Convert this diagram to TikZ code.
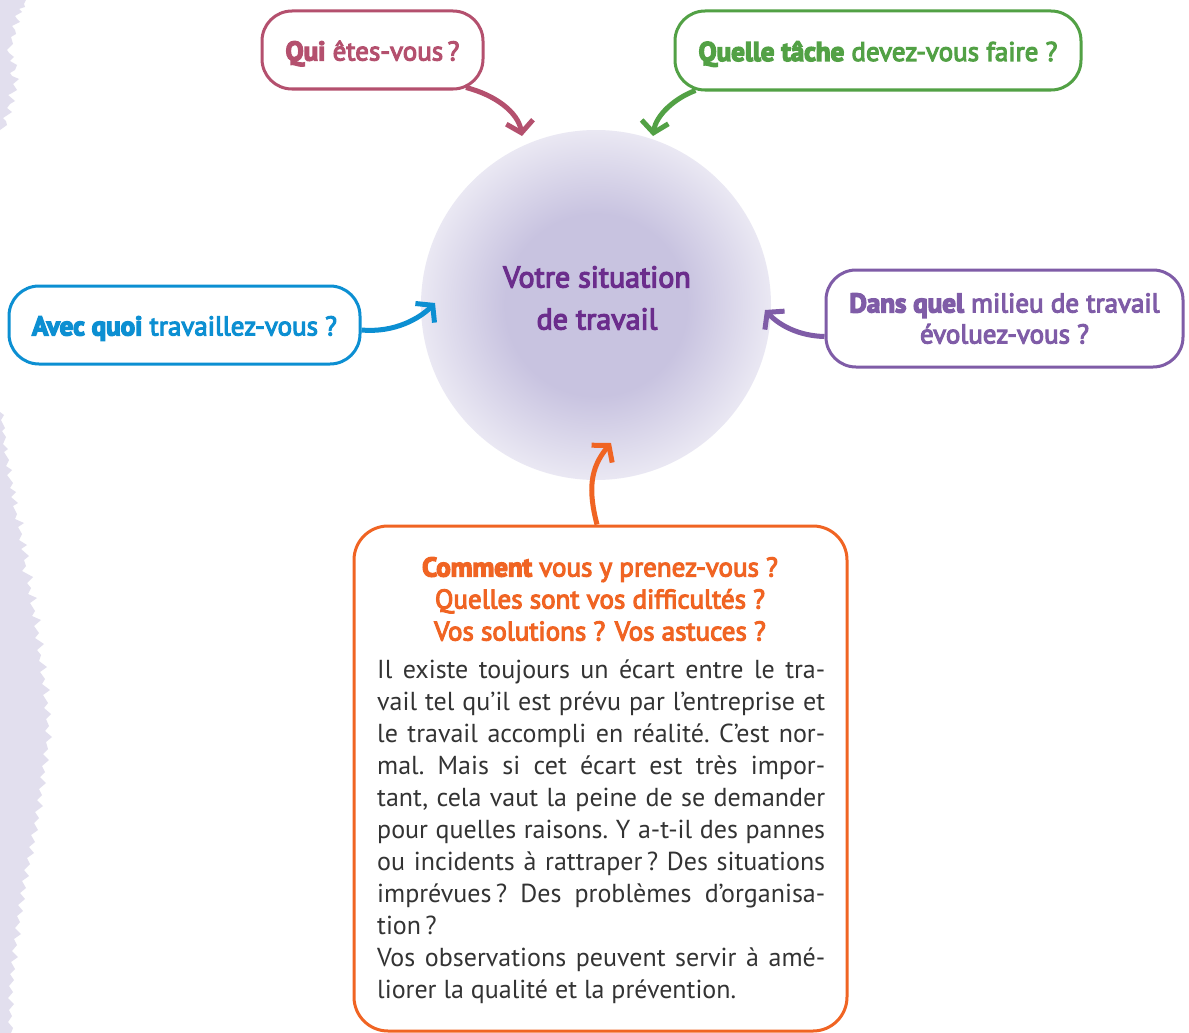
\documentclass[tikz,border=0pt]{standalone}
\usepackage{fontspec}
\setmainfont{PT Sans}
\newfontfamily\medfont{PT Sans}[FakeBold=4]
\newfontfamily\heavyfont{PT Sans}[FakeBold=5]
\usetikzlibrary{arrows.meta,calc}
\definecolor{cred}{HTML}{B4506E}
\definecolor{cgreen}{HTML}{52A145}
\definecolor{cblue}{HTML}{0C8FD2}
\definecolor{cpurple}{HTML}{7F5CA7}
\definecolor{cdeep}{HTML}{6B2D8C}
\definecolor{corange}{HTML}{F06423}
\definecolor{cin}{HTML}{C8C3E0}
\definecolor{cout}{HTML}{EAE8F3}
\definecolor{cedge}{HTML}{E2DFEE}
\definecolor{ctext}{HTML}{333333}
\pgfdeclareradialshading{sitshade}{\pgfpoint{0bp}{0bp}}{color(0bp)=(cin); color(13bp)=(cin); color(25bp)=(cout); color(50bp)=(cout)}
\newcommand\qfont{\medfont\fontsize{27}{31}\selectfont}
\newcommand\hv[1]{{\heavyfont\bfseries #1}}
\newcommand\lowr[1]{\raisebox{-3.5pt}[\height][\depth]{#1}}
\newcommand\jl[1]{\makebox[448pt][s]{#1}\\}
\tikzset{
  qbox/.style={draw=#1, line width=3pt, rounded corners=30pt, inner sep=0pt, align=center, text=#1, font=\qfont},
  conn/.style={draw=#1, line width=5pt, -{Straight Barb[length=11pt,width=27pt]}},
}
\begin{document}
\begin{tikzpicture}[x=1pt,y=-1pt]
\useasboundingbox (0,0) rectangle (1189,1033);
\fill[white] (0,0) rectangle (1189,1033);
% torn lavender edge
\fill[cedge] (0,0) -- (26,0) -- (24,4) -- (25,7) -- (19,9) -- (22,12) -- (15,16) -- (17,19) -- (20,22) -- (12,26) -- (15,30) -- (16,34) -- (11,37) -- (13,44) -- (7,50) -- (9,53) -- (14,57) -- (10,61) -- (17,65) -- (15,70) -- (10,73) -- (12,76) -- (19,79) -- (13,84) -- (17,90) -- (12,93) -- (8,95) -- (15,101) -- (10,104) -- (7,108) -- (12,112) -- (3,118) -- (6,121) -- (7,125) -- (0,130) -- cycle;
\fill[cedge] (0,412) -- (4,415) -- (1,420) -- (5,428) -- (2,431) -- (6,437) -- (3,444) -- (8,449) -- (4,452) -- (9,460) -- (6,466) -- (12,470) -- (7,475) -- (13,483) -- (10,488) -- (16,492) -- (11,497) -- (18,503) -- (13,506) -- (17,514) -- (15,519) -- (24,523) -- (18,527) -- (22,534) -- (19,540) -- (27,545) -- (21,549) -- (29,556) -- (24,560) -- (26,566) -- (22,571) -- (33,577) -- (27,583) -- (31,588) -- (28,594) -- (37,598) -- (30,603) -- (35,611) -- (32,616) -- (41,620) -- (34,626) -- (39,633) -- (35,638) -- (44,644) -- (37,650) -- (41,655) -- (39,661) -- (47,667) -- (40,672) -- (45,679) -- (42,684) -- (50,690) -- (43,695) -- (48,703) -- (44,708) -- (51,714) -- (46,719) -- (49,726) -- (45,731) -- (52,737) -- (46,742) -- (48,749) -- (43,754) -- (49,760) -- (42,766) -- (45,772) -- (40,777) -- (46,783) -- (39,789) -- (42,795) -- (37,800) -- (43,806) -- (35,812) -- (39,818) -- (34,823) -- (38,830) -- (31,835) -- (35,842) -- (29,847) -- (34,853) -- (27,858) -- (30,864) -- (24,870) -- (29,876) -- (22,881) -- (26,888) -- (20,893) -- (25,899) -- (18,905) -- (23,911) -- (17,916) -- (20,922) -- (15,928) -- (21,934) -- (14,939) -- (17,945) -- (12,951) -- (18,957) -- (11,962) -- (15,969) -- (10,974) -- (14,980) -- (9,986) -- (13,992) -- (8,998) -- (14,1004) -- (9,1010) -- (12,1016) -- (8,1022) -- (13,1028) -- (11,1033) -- (0,1033) -- cycle;
% central circle
\node[circle, minimum size=350pt, inner sep=0pt, shade, shading=sitshade] (sit) at (596,305) {};
\node[align=center, text=cdeep, font=\medfont\fontsize{30}{42}\selectfont] (sittext) at (597,298) {Votre situation\\de travail};
% question boxes
\node[qbox=cred, minimum width=221pt, minimum height=78pt] (qui) at (372.5,50) {\lowr{\hv{Qui} êtes-vous\,?}};
\node[qbox=cgreen, minimum width=406pt, minimum height=79pt] (tache) at (878,50.5) {\lowr{\hv{Quelle tâche} devez-vous faire~?}};
\node[qbox=cblue, minimum width=351pt, minimum height=78pt] (avec) at (184.5,325) {\lowr{\hv{Avec quoi} travaillez-vous~?}};
\node[qbox=cpurple, minimum width=357pt, minimum height=97pt] (milieu) at (1004.5,318.5) {\hv{Dans quel} milieu de travail\\évoluez-vous~?};
\node[qbox=corange, rounded corners=34pt, minimum width=493pt, minimum height=505pt] (comment) at (600.5,778.5) {};
\node[align=center, text=corange, font=\qfont\fontsize{27}{32}\selectfont] (head) at (600,599) {\hv{Comment} vous y prenez-vous~?\\Quelles sont vos difficultés~?\\Vos solutions~? Vos astuces~?};
\node[anchor=base west, inner sep=0pt, text=ctext, font=\fontsize{26}{32}\selectfont\frenchspacing] (body) at (377,678) {\parbox[t]{448pt}{\frenchspacing%
\jl{Il existe toujours un écart entre le tra-}
\jl{vail tel qu’il est prévu par l’entreprise et}
\jl{le travail accompli en réalité. C’est nor-}
\jl{mal. Mais si cet écart est très impor-}
\jl{tant, cela vaut la peine de se demander}
\jl{pour quelles raisons. Y a-t-il des pannes}
\jl{ou incidents à rattraper\,? Des situations}
\jl{imprévues\,? Des problèmes d’organisa-}
tion\,?\\
\jl{Vos observations peuvent servir à amé-}
liorer la qualité et la prévention.}};
% arrow ends
\coordinate (tipR) at (522,136);
\coordinate (tipG) at (653,136);
\coordinate (tipB) at (435,303);
\coordinate (tipP) at (765,310);
\coordinate (tipO) at (611,443);
% connectors
\draw[conn=cred] ($(qui.south)+(93.5,-3)$) .. controls (495,95) and (518,112) .. (tipR);
\draw[conn=cgreen] ($(tache.south west)+(22,-1)$) .. controls (675,98) and (656,115) .. (tipG);
\draw[conn=cblue] ($(avec.east)+(0,5)$) .. controls (395,333) and (420,318) .. (tipB);
\draw[conn=cpurple] ($(milieu.west)+(0,18)$) .. controls (800,336) and (780,326) .. (tipP);
\draw[conn=corange] ($(comment.north)+(-3.5,0)$) .. controls (588,490) and (590,468) .. (tipO);
\end{tikzpicture}
\end{document}
